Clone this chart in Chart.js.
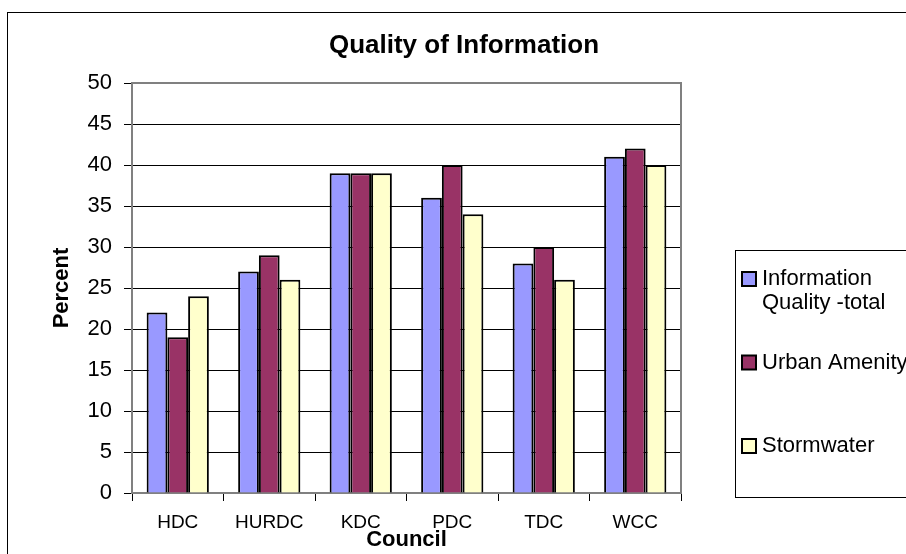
<!DOCTYPE html>
<html>
<head>
<meta charset="utf-8">
<script src="https://cdn.jsdelivr.net/npm/chart.js@4/dist/chart.umd.min.js"></script>
<style>
  html, body { margin: 0; padding: 0; background: #fff; }
  #wrap { width: 906px; height: 554px; position: relative; }
</style>
</head>
<body>
<div id="wrap"><canvas id="c" width="906" height="554"></canvas></div>
<script>
const councils = ['HDC', 'HURDC', 'KDC', 'PDC', 'TDC', 'WCC'];
const infoQualityTotal = [22, 27, 39, 36, 28, 41];
const urbanAmenity = [19, 29, 39, 40, 30, 42];
const stormwater = [24, 26, 39, 34, 26, 40];
const seriesLabels = ['Information Quality -total', 'Urban Amenity', 'Stormwater'];
const seriesColors = ['#9999FF', '#993366', '#FFFFCC'];
const chartTitle = 'Quality of Information';
const xTitle = 'Council';
const yTitle = 'Percent';

const FONT = '"Liberation Sans", Arial, sans-serif';

const frame = {
  id: 'frame',
  beforeDraw(chart) {
    const ctx = chart.ctx;
    ctx.save();
    ctx.fillStyle = '#fff';
    ctx.fillRect(0, 0, chart.width, chart.height);
    ctx.strokeStyle = '#000';
    ctx.lineWidth = 1;
    ctx.strokeRect(7.5, 12.5, 1000, 1000);
    ctx.restore();
  },
  afterDraw(chart) {
    const ctx = chart.ctx;
    const a = chart.chartArea;
    ctx.save();
    // plot frame
    ctx.strokeStyle = '#808080';
    ctx.lineWidth = 2;
    ctx.beginPath();
    ctx.moveTo(a.left, a.bottom);
    ctx.lineTo(a.left, a.top);
    ctx.lineTo(a.right, a.top);
    ctx.lineTo(a.right, a.bottom);
    ctx.stroke();
    // title
    ctx.fillStyle = '#000';
    ctx.font = 'bold 26px ' + FONT;
    ctx.textAlign = 'center';
    ctx.textBaseline = 'middle';
    ctx.fillText(chartTitle, 464, 46);
    // legend box
    ctx.lineWidth = 1;
    ctx.strokeStyle = '#000';
    ctx.strokeRect(735.5, 250.5, 300, 247);
    ctx.font = '22px ' + FONT;
    ctx.textAlign = 'left';
    const maxW = 150;
    chart.data.datasets.forEach((ds, i) => {
      const y0 = 279 + i * 83.5;
      ctx.fillStyle = ds.backgroundColor;
      ctx.fillRect(742, y0 - 7, 14, 14);
      ctx.strokeStyle = '#000';
      ctx.lineWidth = 2;
      ctx.strokeRect(742, y0 - 7, 14, 14);
      // wrap text
      const words = ds.label.split(' ');
      const lines = [];
      let cur = '';
      words.forEach(w => {
        const t = cur ? cur + ' ' + w : w;
        if (cur && ctx.measureText(t).width > maxW) { lines.push(cur); cur = w; }
        else cur = t;
      });
      if (cur) lines.push(cur);
      ctx.fillStyle = '#000';
      lines.forEach((ln, k) => ctx.fillText(ln, 762, y0 + k * 24));
    });
    ctx.restore();
  }
};

new Chart(document.getElementById('c'), {
  type: 'bar',
  data: {
    labels: councils,
    datasets: [
      { label: seriesLabels[0], data: infoQualityTotal, backgroundColor: seriesColors[0] },
      { label: seriesLabels[1], data: urbanAmenity, backgroundColor: seriesColors[1] },
      { label: seriesLabels[2], data: stormwater, backgroundColor: seriesColors[2] }
    ]
  },
  options: {
    responsive: false,
    devicePixelRatio: 1,
    animation: false,
    layout: { padding: { left: 0, top: 83, right: 225, bottom: 0 } },
    datasets: {
      bar: {
        borderColor: '#000',
        borderWidth: 2,
        categoryPercentage: 0.68,
        barPercentage: 1.0
      }
    },
    plugins: {
      legend: { display: false },
      title: { display: false },
      tooltip: { enabled: false }
    },
    scales: {
      x: {
        offset: true,
        grid: {
          offset: true,
          drawOnChartArea: false,
          drawTicks: true,
          tickLength: 8,
          tickColor: '#000',
          tickWidth: 1
        },
        border: { color: '#808080', width: 2 },
        ticks: {
          color: '#000',
          font: { family: FONT, size: 19 },
          padding: 10,
          maxRotation: 0
        },
        title: {
          display: true,
          text: xTitle,
          color: '#000',
          font: { family: FONT, size: 22, weight: 'bold' },
          padding: { top: 0, bottom: 1 }
        },
        afterFit(scale) { scale.height = 61; }
      },
      y: {
        min: 0,
        max: 50,
        ticks: {
          stepSize: 5,
          color: '#000',
          font: { family: FONT, size: 22 },
          padding: 12
        },
        grid: {
          color: (c) => (c.tick && (c.tick.value === 0 || c.tick.value === 50)) ? 'rgba(0,0,0,0)' : '#000',
          tickColor: '#000',
          tickLength: 8,
          lineWidth: 1
        },
        border: { color: '#808080', width: 2 },
        title: {
          display: true,
          text: yTitle,
          color: '#000',
          font: { family: FONT, size: 22, weight: 'bold' },
          padding: { top: 49, bottom: 0 }
        },
        afterFit(scale) { scale.width = 132; }
      }
    }
  },
  plugins: [frame]
});
</script>
</body>
</html>
